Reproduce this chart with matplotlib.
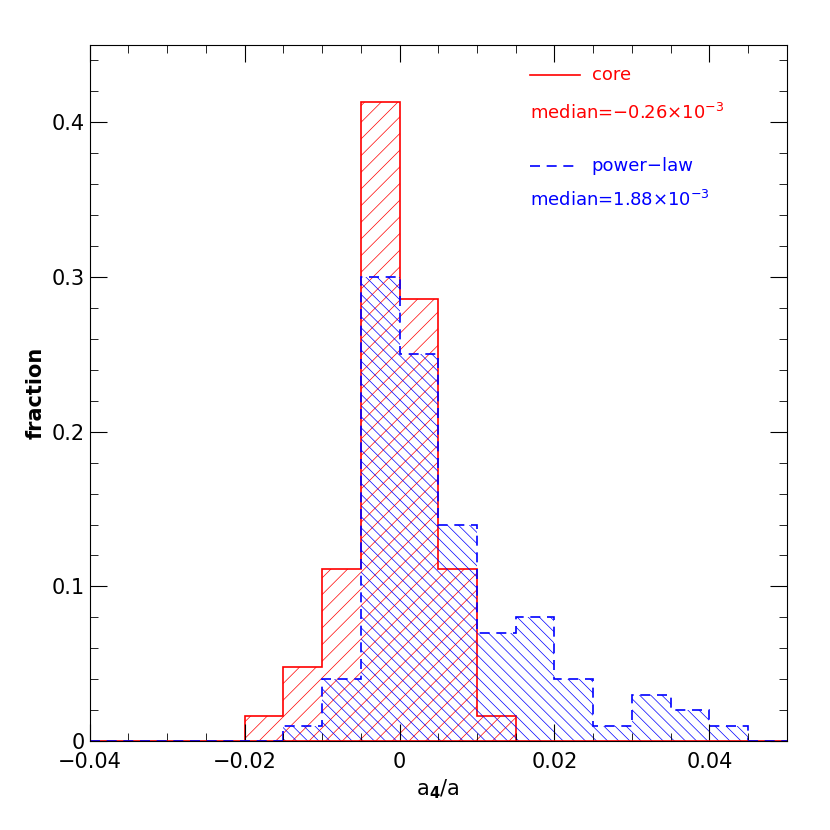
import numpy as np
import matplotlib
matplotlib.use('Agg')
from matplotlib import pyplot as plt
from matplotlib.ticker import MultipleLocator

# bin edges and fractions
core_edges = [-0.02, -0.015, -0.01, -0.005, 0.0, 0.005, 0.01, 0.015]
core_frac = [0.016, 0.048, 0.111, 0.413, 0.286, 0.111, 0.016]

pl_edges = [-0.015, -0.01, -0.005, 0.0, 0.005, 0.01, 0.015, 0.02, 0.025, 0.03, 0.035, 0.04, 0.045]
pl_frac = [0.01, 0.04, 0.30, 0.25, 0.14, 0.07, 0.08, 0.04, 0.01, 0.03, 0.02, 0.01]

plt.rcParams['hatch.linewidth'] = 0.5
fig = plt.figure(figsize=(8.3, 8.3), dpi=100)
ax = fig.add_axes([0.108, 0.107, 0.84, 0.839])

ax.plot([-0.04, 0.05], [0, 0], c='red', lw=1.2)

ax.stairs(core_frac, core_edges, fill=False, hatch='//', edgecolor='red', lw=1.2)
ax.stairs(pl_frac, pl_edges, fill=False, hatch='\\\\\\', edgecolor='blue', lw=1.2, ls=(0, (6, 4)))
ax.plot([-0.04, -0.015], [0, 0], c='blue', lw=1.2, ls=(0, (6, 4)))
ax.plot([0.045, 0.05], [0, 0], c='blue', lw=1.2, ls=(0, (6, 4)))

ax.set_xlim(-0.04, 0.05)
ax.set_ylim(0, 0.45)
ax.xaxis.set_minor_locator(MultipleLocator(0.005))
ax.yaxis.set_minor_locator(MultipleLocator(0.02))
ax.tick_params(which='both', direction='in', top=True, right=True, labelsize=15)
ax.tick_params(which='major', length=12)
ax.tick_params(which='minor', length=6)
ax.tick_params(axis='x', pad=8)
ax.set_xticks([-0.04, -0.02, 0, 0.02, 0.04])
ax.set_xticklabels(['\u22120.04', '\u22120.02', '0', '0.02', '0.04'])
ax.set_yticks([0, 0.1, 0.2, 0.3, 0.4])
ax.set_yticklabels(['0', '0.1', '0.2', '0.3', '0.4'])
ax.set_xlabel(r'a$_\mathbf{4}$/a', fontsize=15)
ax.set_ylabel('fraction', fontsize=15, fontweight='bold')

# legend-like annotations
ax.plot([0.0168, 0.0233], [0.4306, 0.4306], c='red', lw=1.2)
ax.text(0.0248, 0.4306, 'core', color='red', fontsize=13, va='center')
ax.text(0.0168, 0.406, 'median=\u22120.26\u00d710$^{-3}$', color='red', fontsize=13, va='center')
ax.plot([0.0168, 0.0233], [0.372, 0.372], c='blue', lw=1.2, ls=(0, (6, 4)))
ax.text(0.0248, 0.372, 'power\u2212law', color='blue', fontsize=13, va='center')
ax.text(0.0168, 0.350, 'median=1.88\u00d710$^{-3}$', color='blue', fontsize=13, va='center')

fig.savefig('out.png')
